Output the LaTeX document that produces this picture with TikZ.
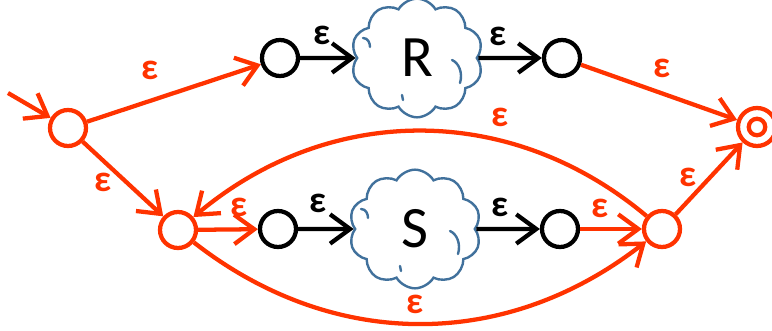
\documentclass[tikz,border=0pt]{standalone}
\usepackage{fontspec}
\setmainfont{Carlito}
\usetikzlibrary{arrows.meta,shapes.symbols}
\definecolor{nfared}{RGB}{255,51,0}
\definecolor{cloudblue}{RGB}{65,113,156}

\begin{document}
\begin{tikzpicture}[x=0.75pt,y=-0.75pt,
  state/.style={circle,line width=3.2pt,minimum size=27pt,inner sep=0pt},
  redstate/.style={state,draw=nfared},
  blackstate/.style={state,draw=black},
  barb/.style={-{Straight Barb[length=15pt,width=22pt]}},
  redarrow/.style={draw=nfared,line width=3.2pt,barb},
  blackarrow/.style={draw=black,line width=3.2pt,barb},
  eps/.style={font=\bfseries\fontsize{28}{28}\selectfont,inner sep=0pt},
  redeps/.style={eps,text=nfared},
  blob/.style={cloud,cloud puffs=10,cloud puff arc=120,cloud ignores aspect,
    draw=cloudblue,line width=1.8pt,minimum width=99pt,minimum height=89pt,
    inner sep=0pt,font=\fontsize{44}{44}\selectfont},
  curl/.style={draw=cloudblue,line width=1.8pt,line cap=round}
]
\useasboundingbox (0,0) rectangle (772,331);

% states
\node[redstate]   (s0) at (68,128) {};
\node[redstate]   (s1) at (178,230) {};
\node[blackstate] (a)  at (280,58) {};
\node[blob]       (R)  at (417,58) {R};
\node[blackstate] (b)  at (562,58) {};
\node[redstate,minimum size=28.5pt] (f) at (757,127) {};
\draw[nfared,line width=3.2pt] (f.center) circle (6.2pt);
\node[blackstate] (c)  at (278,229) {};
\node[blob]       (S)  at (415,229) {S};
\node[blackstate] (d)  at (560,229) {};
\node[redstate]   (s2) at (662,229) {};
\coordinate (start) at (8,93);

% small inner curls of the clouds
\foreach \cl in {R,S}{
  \begin{scope}[shift={(\cl.center)}]
    \draw[curl] (35,2) .. controls (42,5) and (46,15) .. (43,25);
    \draw[curl] (-54,-20) .. controls (-49,-20) and (-47,-15) .. (-47,-11);
    \draw[curl] (-15,37) -- (-14,42);
  \end{scope}
}

% transitions
\draw[redarrow] (start) -- (s0);
\draw[redarrow] (s0) -- (a);
\draw[redarrow] (s0) -- (s1);
\draw[blackarrow] (a) -- (R);
\draw[blackarrow] (R) -- (b);
\draw[redarrow] (b) -- (f);
\draw[redarrow] (s1) -- (c);
\draw[blackarrow] (c) -- (S);
\draw[blackarrow] (S) -- (d);
\draw[redarrow] (d) -- (s2);
\draw[redarrow] (s2) -- (f);
\draw[redarrow] (s2) to[out=140,in=40] (s1);
\draw[redarrow] (s1) to[out=-38,in=-142] (s2);

% labels
\node[redeps]  (l1)  at (150,70)  {ε};
\node[redeps]  (l2)  at (103,182) {ε};
\node[eps]     (l3)  at (322,35)  {ε};
\node[eps]     (l4)  at (498,36)  {ε};
\node[redeps]  (l5)  at (662,68)  {ε};
\node[redeps]  (l6)  at (239,207) {ε};
\node[eps]     (l7)  at (318,203) {ε};
\node[eps]     (l8)  at (500,207) {ε};
\node[redeps]  (l9)  at (600,208) {ε};
\node[redeps]  (l10) at (688,177) {ε};
\node[redeps]  (l11) at (500,117) {ε};
\node[redeps]  (l12) at (415,304) {ε};
\end{tikzpicture}
\end{document}
